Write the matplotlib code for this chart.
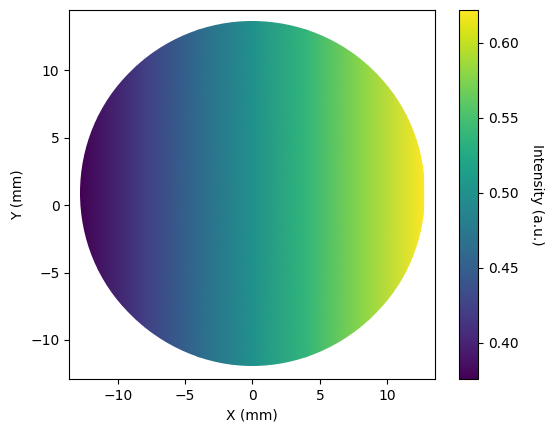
import numpy as np
import matplotlib
matplotlib.use("Agg")
import matplotlib.pyplot as plt
from matplotlib.patches import Circle

# intensity profile read across the aperture (it only varies along X)
x_samples = [-12.8, -8.0, -4.0, 0.0, 4.0, 8.0, 12.7]
intensity = [0.376, 0.422, 0.461, 0.499, 0.538, 0.577, 0.622]

# aperture
center = (0.0, 0.9)
radius = 12.8

fig = plt.figure(figsize=(5.56, 4.32), dpi=100)
ax = fig.add_axes([0.1246, 0.1227, 0.6578, 0.8548])
cax = fig.add_axes([0.8261, 0.1227, 0.0342, 0.8548])

yy = [center[1] - radius, center[1] + radius]
C = np.array([intensity, intensity])
mesh = ax.pcolormesh(x_samples, yy, C, shading="gouraud", cmap="viridis",
                     vmin=min(intensity), vmax=max(intensity))
clip = Circle(center, radius, transform=ax.transData)
mesh.set_clip_path(clip)

ax.set_xlim(-13.7, 13.65)
ax.set_ylim(-12.9, 14.5)
ax.set_aspect("equal", adjustable="datalim")
ax.set_xlabel("X (mm)")
ax.set_ylabel("Y (mm)")

cbar = fig.colorbar(mesh, cax=cax)
cbar.set_label("Intensity (a.u.)", rotation=270, labelpad=18)

fig.savefig("out.png", dpi=100)
